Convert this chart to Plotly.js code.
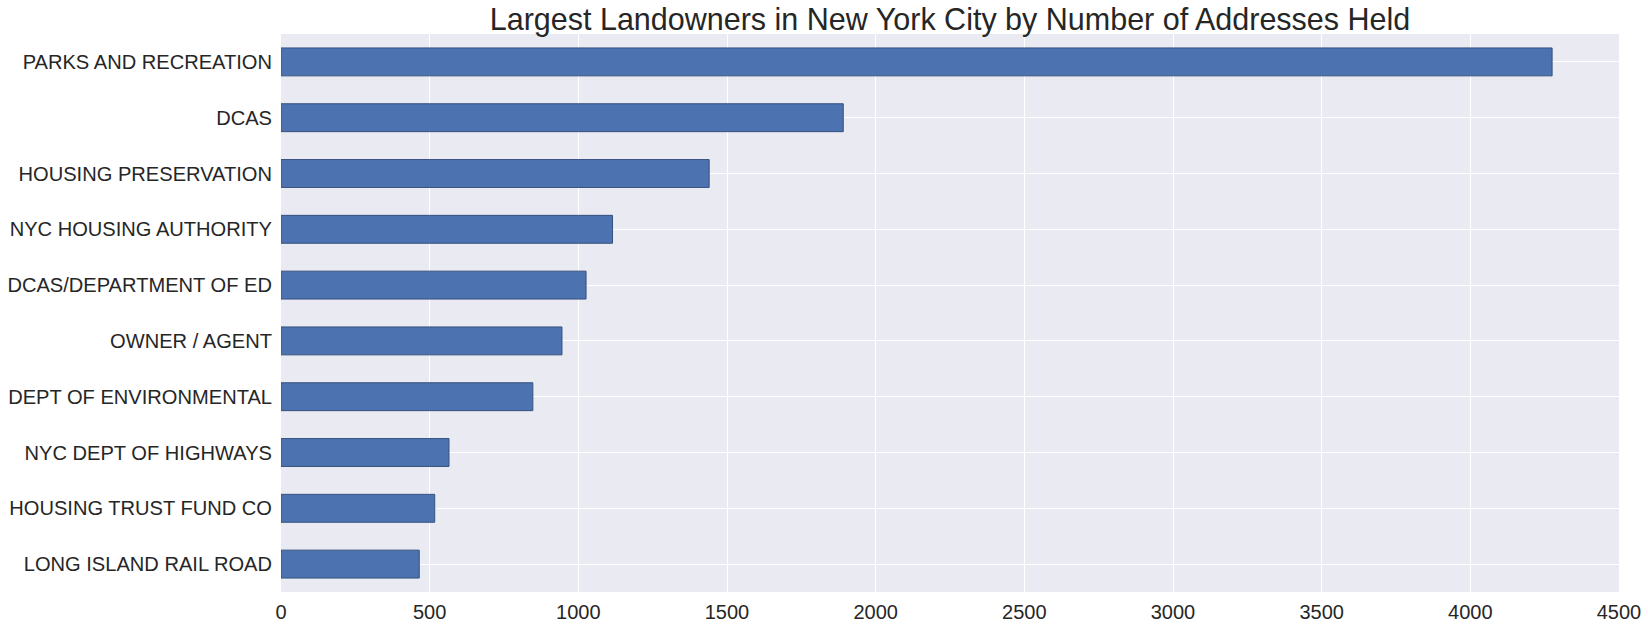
<!DOCTYPE html>
<html>
<head>
<meta charset="utf-8">
<script src="https://cdn.plot.ly/plotly-3.0.1.min.js"></script>
<style>html,body{margin:0;padding:0;background:#fff;}#chart{width:1648px;height:625px;}</style>
</head>
<body>
<div id="chart"></div>
<script>
const owners = ["PARKS AND RECREATION","DCAS","HOUSING PRESERVATION","NYC HOUSING AUTHORITY","DCAS/DEPARTMENT OF ED","OWNER / AGENT","DEPT OF ENVIRONMENTAL","NYC DEPT OF HIGHWAYS","HOUSING TRUST FUND CO","LONG ISLAND RAIL ROAD"];
const addresses = [4275, 1891, 1440, 1115, 1026, 945, 847, 565, 517, 465];
const xTicks = [0,500,1000,1500,2000,2500,3000,3500,4000,4500];

const trace = {
  type: 'bar',
  orientation: 'h',
  y: owners,
  x: addresses,
  width: 0.5,
  marker: {color: '#4C72B0', line: {color: '#36517f', width: 1}},
  hoverinfo: 'x+y'
};

const layout = {
  width: 1648, height: 625,
  paper_bgcolor: '#ffffff',
  plot_bgcolor: '#EAEAF2',
  margin: {l: 281, r: 29, t: 34, b: 33},
  font: {family: 'Liberation Sans, Arial, sans-serif', color: '#262626'},
  title: {text: 'Largest Landowners in New York City by Number of Addresses Held', font: {size: 30.5, color: '#262626'}, x: 0.5, xanchor: 'center', xref: 'paper', yref: 'container', y: 1 - 19/625, yanchor: 'middle'},
  bargap: 0.5,
  showlegend: false,
  xaxis: {range: [0, 4500], tickvals: xTicks, ticktext: xTicks.map(String), showgrid: true, gridcolor: '#ffffff', gridwidth: 1, zeroline: false, showline: false, ticks: '', tickfont: {size: 20}, ticklabelstandoff: 6},
  yaxis: {type: 'category', autorange: false, range: [9.5, -0.5], showgrid: true, gridcolor: '#ffffff', gridwidth: 1, showline: false, ticks: '', tickfont: {size: 20.1}, ticklabelstandoff: 8}
};

Plotly.newPlot('chart', [trace], layout, {displayModeBar: false, staticPlot: true});
</script>
</body>
</html>
